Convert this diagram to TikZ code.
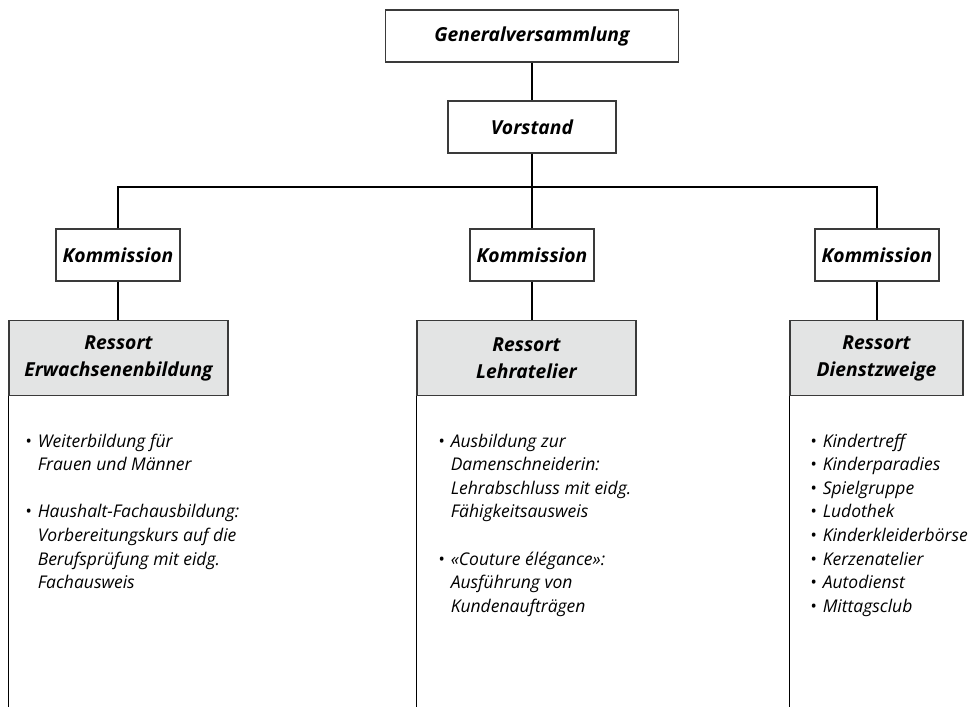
\documentclass[tikz,border=0pt]{standalone}
\usepackage{fontspec}
\setmainfont{Open Sans}
\definecolor{boxgray}{HTML}{E3E4E4}
\definecolor{edge}{HTML}{3A3A3A}
\begin{document}
\begin{tikzpicture}[x=1pt,y=-1pt,
  lbl/.style={draw=edge,line width=1.1pt,fill=white,inner sep=0pt,align=center,
    font=\fontsize{19.3}{26}\selectfont\bfseries\itshape},
  ressort/.style={lbl,fill=boxgray,font=\fontsize{19.3}{27}\selectfont\bfseries\itshape},
  conn/.style={line width=1.1pt,black},
  body/.style={anchor=base west,inner sep=0pt,align=left,
    font=\fontsize{17.5}{23.6}\selectfont\itshape}]
\useasboundingbox (0,0) rectangle (970,707);
\node[lbl,minimum width=293pt,minimum height=52pt] (gv) at (532,36) {Generalversammlung};
\node[lbl,minimum width=168pt,minimum height=52pt] (vs) at (532,127) {Vorstand};
\node[lbl,minimum width=124pt,minimum height=52pt] (k1) at (118,255) {Kommission};
\node[lbl,minimum width=124pt,minimum height=52pt] (k2) at (532,255) {Kommission};
\node[lbl,minimum width=124pt,minimum height=52pt] (k3) at (877,255) {Kommission};
\node[ressort,minimum width=219pt,minimum height=75pt] (r1) at (118.5,358) {Ressort\\Erwachsenenbildung};
\node[ressort,minimum width=219pt,minimum height=75pt] (r2) at (526.5,358) {Ressort\\Lehratelier};
\node[ressort,minimum width=173pt,minimum height=75pt] (r3) at (876.5,358) {Ressort\\Dienstzweige};
\coordinate (bus) at (532,187);
\coordinate (bottom) at (0,707);
\draw[conn] (gv) -- (vs);
\draw[conn] (vs) -- (k2);
\draw[conn] (k1.north) |- (bus) -| (k3.north);
\draw[conn] (k1.south) -- (k1.south |- r1.north);
\draw[conn] (k2.south) -- (k2.south |- r2.north);
\draw[conn] (k3.south) -- (k3.south |- r3.north);
\draw[conn] (r1.south west) -- (r1.south west |- bottom);
\draw[conn] (r2.south west) -- (r2.south west |- bottom);
\draw[conn] (r3.south west) -- (r3.south west |- bottom);
\node[body] (t1) at (25,447) {\begin{tabular}[t]{@{}l@{\hspace{6pt}}l@{}}
•& Weiterbildung für\\ & Frauen und Männer\\ & \\
•& Haushalt-Fachausbildung:\\ & Vorbereitungskurs auf die\\ & Berufsprüfung mit eidg.\\ & Fachausweis\end{tabular}};
\node[body] (t2) at (438,447) {\begin{tabular}[t]{@{}l@{\hspace{6pt}}l@{}}
•& Ausbildung zur\\ & Damenschneiderin:\\ & Lehrabschluss mit eidg.\\ & Fähigkeitsausweis\\ & \\
•& «Couture élégance»:\\ & Ausführung von\\ & Kundenaufträgen\end{tabular}};
\node[body] (t3) at (810,447) {\begin{tabular}[t]{@{}l@{\hspace{6pt}}l@{}}
•& Kindertreff\\ •& Kinderparadies\\ •& Spielgruppe\\ •& Ludothek\\ •& Kinderkleiderbörse\\
•& Kerzenatelier\\ •& Autodienst\\ •& Mittagsclub\end{tabular}};
\end{tikzpicture}
\end{document}
